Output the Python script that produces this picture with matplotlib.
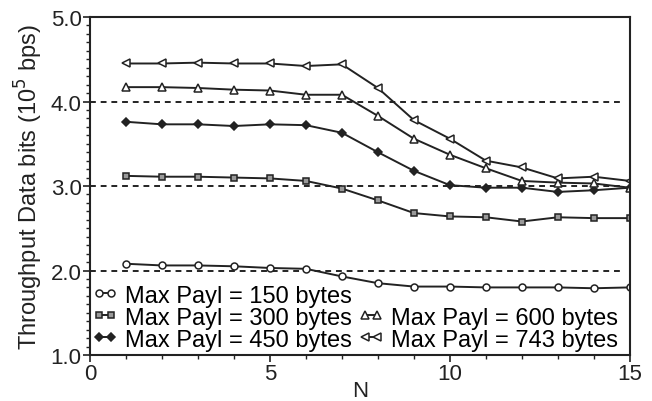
import numpy as np
import matplotlib.pyplot as plt
from matplotlib.lines import Line2D
from matplotlib.ticker import MultipleLocator, FormatStrFormatter

plt.rcParams['font.family'] = ['Liberation Sans', 'DejaVu Sans']

# number of stations
N = [1, 2, 3, 4, 5, 6, 7, 8, 9, 10, 11, 12, 13, 14, 15]

# throughput (1e5 bps) for each max payload
thr_150 = [2.08, 2.06, 2.06, 2.05, 2.03, 2.02, 1.93, 1.85, 1.81, 1.81, 1.80, 1.80, 1.80, 1.79, 1.80]
thr_300 = [3.12, 3.11, 3.11, 3.10, 3.09, 3.06, 2.97, 2.83, 2.68, 2.64, 2.63, 2.58, 2.63, 2.62, 2.62]
thr_450 = [3.76, 3.73, 3.73, 3.71, 3.73, 3.72, 3.63, 3.40, 3.18, 3.01, 2.98, 2.98, 2.93, 2.95, 2.98]
thr_600 = [4.17, 4.17, 4.16, 4.14, 4.13, 4.08, 4.08, 3.83, 3.56, 3.37, 3.21, 3.06, 3.04, 3.03, 2.98]
thr_743 = [4.45, 4.45, 4.46, 4.45, 4.45, 4.42, 4.44, 4.16, 3.78, 3.56, 3.30, 3.22, 3.09, 3.11, 3.06]

ref_levels = [2.0, 3.0, 4.0]

fig = plt.figure(figsize=(6.52, 4.02), dpi=100)
ax = fig.add_axes([0.138, 0.1144, 0.828, 0.8408])

col = '#222222'
lw = 1.4

for lev in ref_levels:
    ax.plot([0, 14.85], [lev, lev], color=col, lw=1.4, ls=(0, (3, 2.5)))

h150, = ax.plot(N, thr_150, color=col, lw=lw, marker='o', ms=5, mfc='white', mec=col, mew=1.1,
                label='Max Payl = 150 bytes')
h300, = ax.plot(N, thr_300, color=col, lw=lw, marker='s', ms=5, mfc='#999999', mec=col, mew=1.1,
                label='Max Payl = 300 bytes')
h450, = ax.plot(N, thr_450, color=col, lw=lw, marker='D', ms=4.5, mfc=col, mec=col, mew=1.1,
                label='Max Payl = 450 bytes')
h600, = ax.plot(N, thr_600, color=col, lw=lw, marker='^', ms=6, mfc='white', mec=col, mew=1.1,
                label='Max Payl = 600 bytes')
h743, = ax.plot(N, thr_743, color=col, lw=lw, marker='<', ms=6, mfc='white', mec=col, mew=1.1,
                label='Max Payl = 743 bytes')

blank = Line2D([], [], linestyle='none', marker=None)

ax.set_xlim(0, 15)
ax.set_ylim(1.0, 5.0)
ax.xaxis.set_major_locator(MultipleLocator(5))
ax.xaxis.set_minor_locator(MultipleLocator(1))
ax.yaxis.set_major_locator(MultipleLocator(1))
ax.yaxis.set_minor_locator(MultipleLocator(0.1))
ax.yaxis.set_major_formatter(FormatStrFormatter('%.1f'))
ax.tick_params(which='major', direction='out', length=5, width=1.2, labelsize=16, colors=col, pad=1)
ax.tick_params(which='minor', direction='out', length=3, width=1.0, colors=col)
for s in ax.spines.values():
    s.set_linewidth(1.5)
    s.set_color(col)

ax.set_xlabel('N', fontsize=16, color=col, labelpad=-3)
ax.set_ylabel('Throughput Data bits (10$^5$ bps)', fontsize=17, color=col, labelpad=4)

ax.legend([h150, h300, h450, blank, h600, h743],
          [h150.get_label(), h300.get_label(), h450.get_label(), '', h600.get_label(), h743.get_label()],
          ncol=2, loc='lower left', bbox_to_anchor=(0.0, 0.006), frameon=False, fontsize=17,
          handlelength=1.1, handletextpad=0.3, columnspacing=0.25, labelspacing=0.0,
          borderpad=0.1, borderaxespad=0.0, numpoints=2)

fig.savefig('out.png', dpi=100)
